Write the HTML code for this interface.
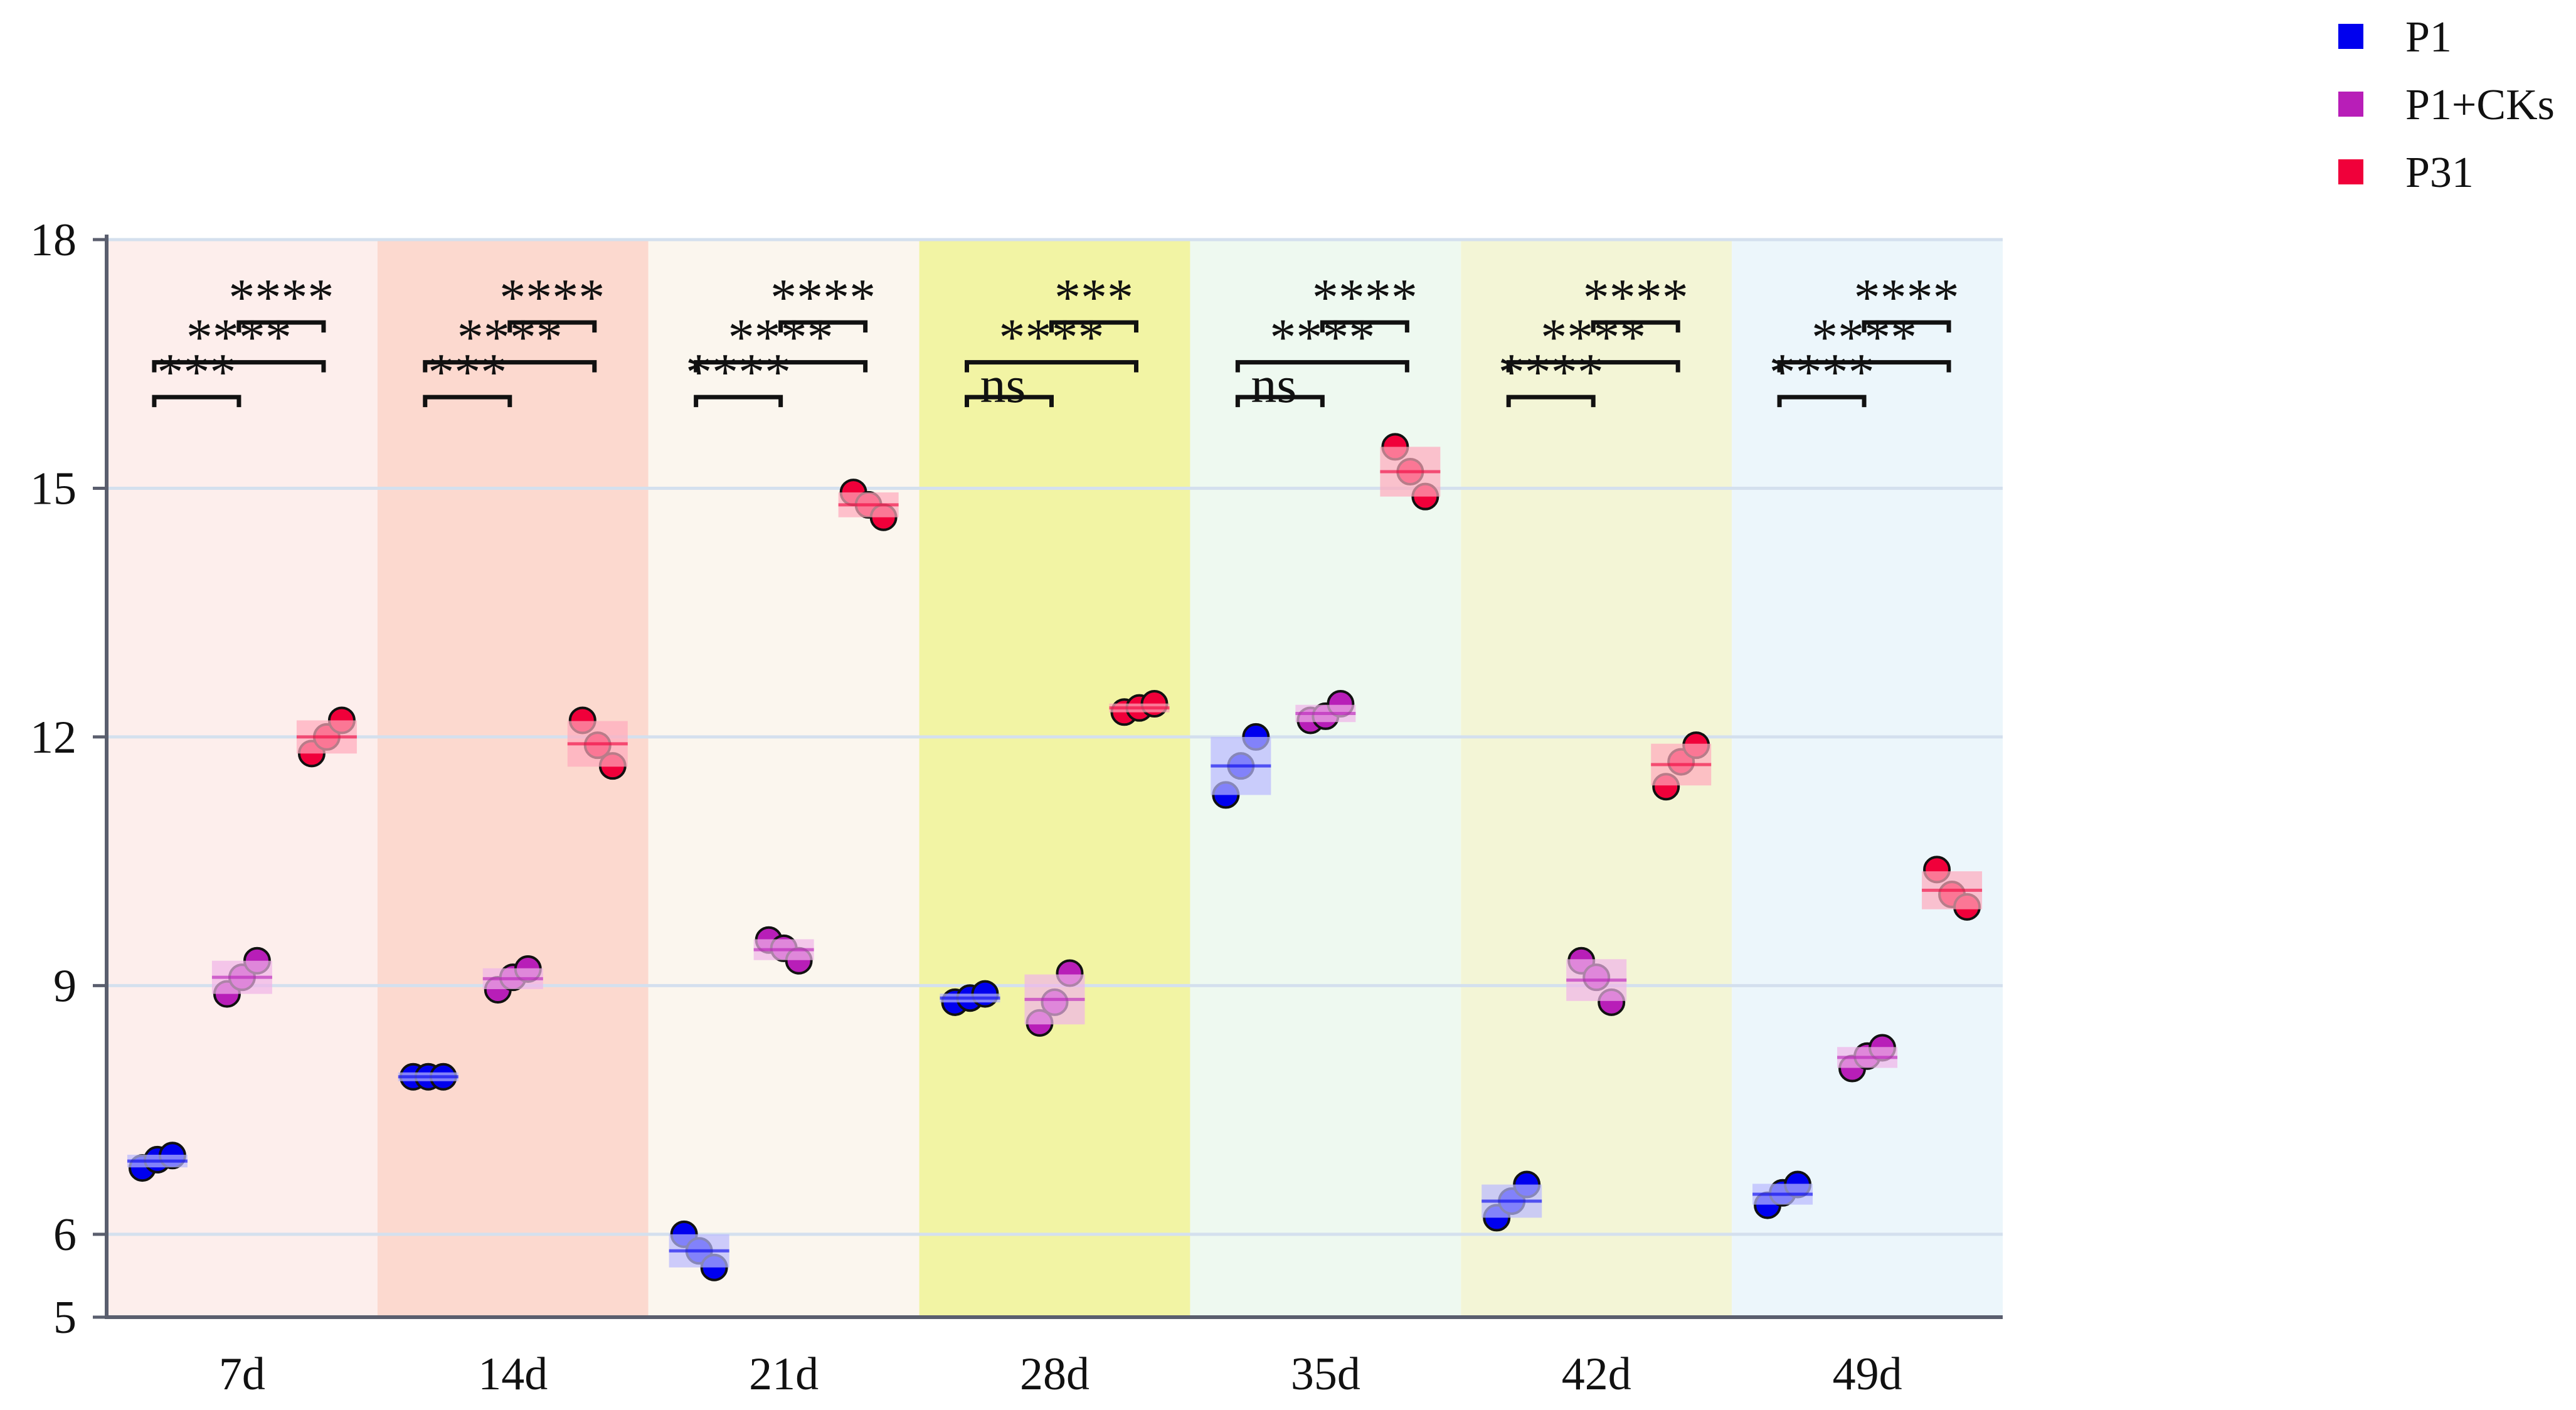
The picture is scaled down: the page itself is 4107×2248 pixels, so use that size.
<!DOCTYPE html>
<html><head><meta charset="utf-8"><style>
html,body{margin:0;padding:0;background:#fff;}
svg{display:block;font-family:"Liberation Serif",serif;}
</style></head><body>
<svg id="chart" width="4107" height="2248" viewBox="0 0 4107 2248">
<g id="bands"></g><g id="grid"></g><g id="axes"></g><g id="marks"></g><g id="sig"></g><g id="legend"></g>
</svg>
<script>
const categories = ["7d","14d","21d","28d","35d","42d","49d"];
const seriesNames = ["P1","P1+CKs","P31"];
const p1Values = [[6.8,6.9,6.95],[7.9,7.9,7.9],[6.0,5.8,5.6],[8.8,8.85,8.9],[11.3,11.65,12.0],[6.2,6.4,6.6],[6.35,6.5,6.6]];
const ckValues = [[8.9,9.1,9.3],[8.95,9.1,9.2],[9.55,9.45,9.3],[8.55,8.8,9.15],[12.2,12.25,12.4],[9.3,9.1,8.8],[8.0,8.15,8.25]];
const p31Values = [[11.8,12.0,12.2],[12.2,11.9,11.65],[14.95,14.8,14.65],[12.3,12.35,12.4],[15.5,15.2,14.9],[11.4,11.7,11.9],[10.4,10.1,9.95]];
const yTicks = [5,6,9,12,15,18];
const sigP1vsCK = ["***","***","****","ns","ns","****","****"];
const sigP1vsP31 = ["****","****","****","****","****","****","****"];
const sigCKvsP31 = ["****","****","****","***","****","****","****"];

const NS="http://www.w3.org/2000/svg";
const L=170,R=3193,T=382,B=2100,yMin=5,yMax=18;
const bandW=(R-L)/categories.length;
const bandColors=["#fdeeec","#fcd9cf","#fbf6ee","#f2f4a4","#eef9f0","#f3f5d6","#ecf6fb"];
const colors=["#0000ee","#b81eb8","#f0003a"];
const light=["rgba(185,185,255,0.7)","rgba(240,180,232,0.7)","rgba(255,170,188,0.7)"];
const offsets=[-135,0,135];
function y(v){return B-(v-yMin)/(yMax-yMin)*(B-T);}
function xc(i){return L+bandW*(i+0.5);}
function mk(tag,attrs,parent){const e=document.createElementNS(NS,tag);for(const k in attrs)e.setAttribute(k,attrs[k]);parent.appendChild(e);return e;}
const gB=document.getElementById('bands'),gG=document.getElementById('grid'),gA=document.getElementById('axes'),gM=document.getElementById('marks'),gS=document.getElementById('sig'),gL=document.getElementById('legend');

categories.forEach((c,i)=>{
  const r=mk('rect',{x:L+bandW*i,y:T,width:bandW,height:B-T,fill:bandColors[i]},gB);
  
  
  const t=mk('text',{x:xc(i),y:2215,'font-size':74,'text-anchor':'middle',fill:'#111'},gA);
  t.textContent=c;
  
  
});
yTicks.forEach(v=>{
  if(v>yMin){const g=mk('line',{x1:L,x2:R,y1:y(v),y2:y(v),stroke:'#d4e0ee','stroke-width':5},gG);
  
  }
  mk('line',{x1:L-22,x2:L,y1:y(v),y2:y(v),stroke:'#5a5e6e','stroke-width':5},gA);
  const t=mk('text',{x:122,y:y(v)+25,'font-size':74,'text-anchor':'end',fill:'#111'},gA);
  t.textContent=v;
  
  
});
const ax=mk('path',{d:`M${L},${T-8} V${B} H${R}`,fill:'none',stroke:'#5a5e6e','stroke-width':6},gA);



const all=[p1Values,ckValues,p31Values];
categories.forEach((c,i)=>{
  all.forEach((ser,s)=>{
    const vals=ser[i];
    const mean=vals.reduce((a,b)=>a+b,0)/vals.length;
    const sd=Math.sqrt(vals.reduce((a,b)=>a+(b-mean)*(b-mean),0)/(vals.length-1));
    const cx=xc(i)+offsets[s];
    vals.forEach((v,k)=>{
      const p=mk('circle',{cx:cx+(k-1)*24,cy:y(v),r:20,fill:colors[s],stroke:'#111','stroke-width':4},gM);
      
      
    });
    const h=Math.max(Math.abs(y(mean+sd)-y(mean-sd)),14);
    const b=mk('rect',{x:cx-48,y:y(mean)-h/2,width:96,height:h,fill:light[s]},gM);
    
    
    const m=mk('line',{x1:cx-48,x2:cx+48,y1:y(mean),y2:y(mean),stroke:colors[s],'stroke-width':5,opacity:0.6},gM);
    
    
  });
  const br=[[0,1,16.1,sigP1vsCK[i]],[0,2,16.52,sigP1vsP31[i]],[1,2,17.0,sigCKvsP31[i]]];
  br.forEach(([a,b2,lv,lab])=>{
    const x1=xc(i)+offsets[a]-5,x2=xc(i)+offsets[b2]-5,yy=y(lv);
    const pth=mk('path',{d:`M${x1},${yy+16} V${yy} H${x2} V${yy+16}`,fill:'none',stroke:'#111','stroke-width':7},gS);
    
    
    const isNs=lab==='ns';
    const t=mk('text',{x:(x1+x2)/2+(isNs?-10:0),y:isNs?yy+8:yy-12,'font-size':isNs?82:84,'text-anchor':'middle',fill:'#111'},gS);
    t.textContent=lab;
    
    
  });
});
seriesNames.forEach((n,s)=>{
  const yy=58+s*108;
  const r=mk('rect',{x:3728,y:yy-20,width:40,height:40,fill:colors[s]},gL);
  
  
  const t=mk('text',{x:3835,y:yy+24,'font-size':70,fill:'#111'},gL);
  t.textContent=n;
  
  
});
</script>
</body></html>
